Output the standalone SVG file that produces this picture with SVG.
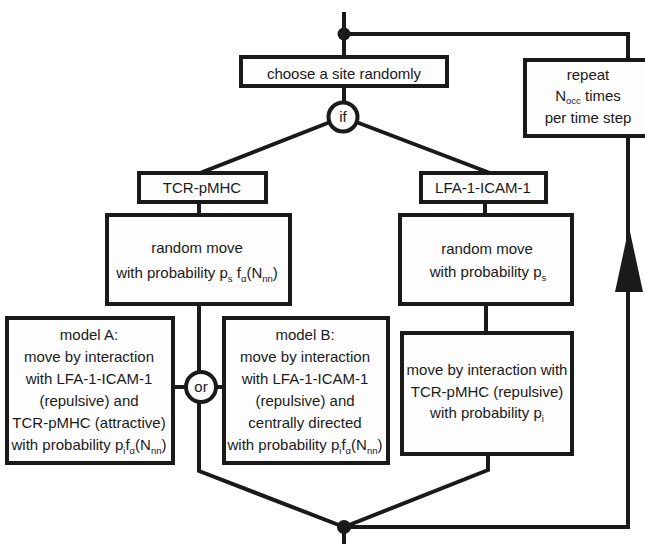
<svg xmlns="http://www.w3.org/2000/svg" width="645" height="544" viewBox="0 0 645 544">
<style>
.box{fill:#fdfdfd;stroke:#1a1a1a;stroke-width:4}
.ln{fill:none;stroke:#1a1a1a;stroke-width:4;stroke-linejoin:miter}
.dot{fill:#1a1a1a}
.t{font-family:"Liberation Sans",Arial,sans-serif;font-size:15px;fill:#1a1a1a;text-anchor:middle}
.s{font-size:9.5px}
</style>
<rect width="645" height="544" fill="#ffffff"/>
<g id="connectors">
<path class="ln" d="M344,12 V57"/>
<path class="ln" d="M344,34 H628 V60"/>
<path class="ln" d="M344,86 V102"/>
<path class="ln" d="M343,117 L200,173"/>
<path class="ln" d="M343,117 L490,173"/>
<path class="ln" d="M199,202 V215"/>
<path class="ln" d="M485,202 V215"/>
<path class="ln" d="M199,304 V471 L344,527"/>
<path class="ln" d="M173,387 H224"/>
<path class="ln" d="M486,304 V333"/>
<path class="ln" d="M488,454 V470 L344,527"/>
<path class="ln" d="M344,527 H628 V136"/>
<path class="ln" d="M344,527 V544"/>
<polygon class="dot" points="629,227 615,292 643,292"/>
<circle class="dot" cx="344" cy="34" r="6.5"/>
<circle class="dot" cx="344" cy="527" r="7"/>
</g>
<g id="choose">
<rect class="box" x="241" y="57" width="206" height="29"/>
<text class="t" x="344" y="79">choose a site randomly</text>
</g>
<g id="repeat">
<rect class="box" x="525" y="60" width="126" height="76"/>
<text class="t" x="588" y="80">repeat</text>
<text class="t" x="588" y="101">N<tspan class="s" dy="3">occ</tspan><tspan dy="-3"> times</tspan></text>
<text class="t" x="588" y="123">per time step</text>
</g>
<g id="if">
<circle class="box" cx="343" cy="117" r="14.5"/>
<text class="t" x="343" y="122">if</text>
</g>
<g id="tcr">
<rect class="box" x="139" y="173" width="127" height="29"/>
<text class="t" x="202" y="193">TCR-pMHC</text>
</g>
<g id="lfa">
<rect class="box" x="421" y="173" width="125" height="29"/>
<text class="t" x="483" y="193">LFA-1-ICAM-1</text>
</g>
<g id="random-left">
<rect class="box" x="107" y="215" width="183" height="89"/>
<text class="t" x="197" y="253">random move</text>
<text class="t" x="197" y="278">with probability p<tspan class="s" dy="4">s</tspan><tspan dy="-4"> f</tspan><tspan class="s" dy="4">α</tspan><tspan dy="-4">(N</tspan><tspan class="s" dy="4">nn</tspan><tspan dy="-4">)</tspan></text>
</g>
<g id="random-right">
<rect class="box" x="400" y="215" width="172" height="89"/>
<text class="t" x="487" y="254">random move</text>
<text class="t" x="488" y="277">with probability p<tspan class="s" dy="4">s</tspan></text>
</g>
<g id="or">
<circle class="box" cx="201" cy="387" r="15"/>
<text class="t" x="201" y="392">or</text>
</g>
<g id="modelA">
<rect class="box" x="7" y="318" width="166" height="145"/>
<text class="t" x="89" y="340">model A:</text>
<text class="t" x="89" y="362">move by interaction</text>
<text class="t" x="89" y="384">with LFA-1-ICAM-1</text>
<text class="t" x="89" y="406">(repulsive) and</text>
<text class="t" x="89" y="428">TCR-pMHC (attractive)</text>
<text class="t" x="89" y="450">with probability p<tspan class="s" dy="4">i</tspan><tspan dy="-4">f</tspan><tspan class="s" dy="4">α</tspan><tspan dy="-4">(N</tspan><tspan class="s" dy="4">nn</tspan><tspan dy="-4">)</tspan></text>
</g>
<g id="modelB">
<rect class="box" x="224" y="318" width="164" height="145"/>
<text class="t" x="305" y="340">model B:</text>
<text class="t" x="305" y="362">move by interaction</text>
<text class="t" x="305" y="384">with LFA-1-ICAM-1</text>
<text class="t" x="305" y="406">(repulsive) and</text>
<text class="t" x="305" y="428">centrally directed</text>
<text class="t" x="305" y="450">with probability p<tspan class="s" dy="4">i</tspan><tspan dy="-4">f</tspan><tspan class="s" dy="4">α</tspan><tspan dy="-4">(N</tspan><tspan class="s" dy="4">nn</tspan><tspan dy="-4">)</tspan></text>
</g>
<g id="interaction-right">
<rect class="box" x="402" y="333" width="170" height="121"/>
<text class="t" x="487" y="375">move by interaction with</text>
<text class="t" x="487" y="397">TCR-pMHC (repulsive)</text>
<text class="t" x="487" y="418">with probability p<tspan class="s" dy="4">i</tspan></text>
</g>
</svg>
